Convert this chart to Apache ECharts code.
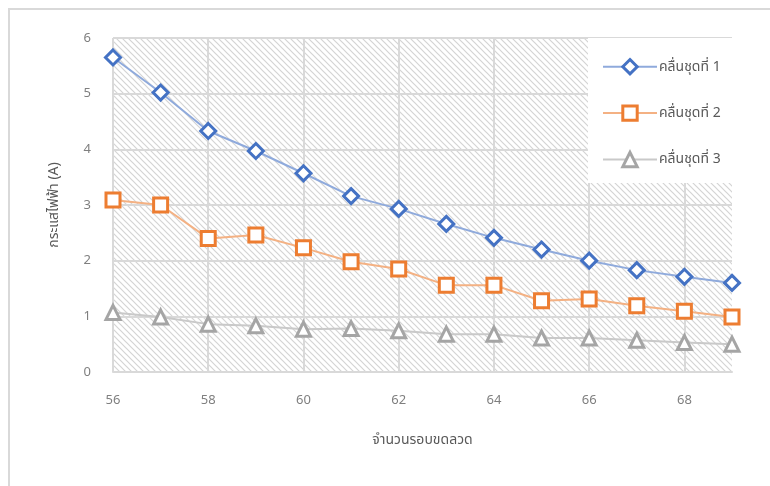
<!DOCTYPE html>
<html>
<head>
<meta charset="utf-8">
<script src="https://cdn.jsdelivr.net/npm/echarts@6/dist/echarts.min.js"></script>
<style>
  html, body { margin: 0; padding: 0; background: #fff; }
  #chart { width: 770px; height: 486px; }
</style>
</head>
<body>
<div id="chart"></div>
<script>
// Winding turns (x) and measured current for each wave set
const turns = ['56','57','58','59','60','61','62','63','64','65','66','67','68','69'];
const wave1 = [5.65, 5.02, 4.33, 3.97, 3.57, 3.16, 2.93, 2.66, 2.41, 2.20, 2.00, 1.83, 1.71, 1.60];
const wave2 = [3.09, 3.00, 2.40, 2.46, 2.23, 1.98, 1.85, 1.56, 1.56, 1.28, 1.31, 1.19, 1.09, 0.99];
const wave3 = [1.07, 0.99, 0.86, 0.83, 0.77, 0.78, 0.74, 0.68, 0.68, 0.61, 0.61, 0.57, 0.53, 0.50];
const seriesNames = ['คลื่นชุดที่ 1', 'คลื่นชุดที่ 2', 'คลื่นชุดที่ 3'];
const yTicks = [0, 1, 2, 3, 4, 5, 6];

// Diagonal hatch tile for the plot background
function hatchTile() {
  const c = document.createElement('canvas');
  const s = 6;
  c.width = s; c.height = s;
  const g = c.getContext('2d');
  g.fillStyle = '#ffffff';
  g.fillRect(0, 0, s, s);
  g.strokeStyle = '#d4d4d4';
  g.lineWidth = 1.2;
  g.beginPath();
  g.moveTo(-1, -1); g.lineTo(s + 1, s + 1);
  g.moveTo(-1, s - 1); g.lineTo(1, s + 1);
  g.moveTo(s - 1, -1); g.lineTo(s + 1, 1);
  g.stroke();
  return c;
}

const font = '"Noto Sans", "Noto Sans Thai", Tahoma, sans-serif';
const chart = echarts.init(document.getElementById('chart'), null, { renderer: 'canvas' });

function lineSeries(name, data, lineColor, markColor, symbol, size) {
  return {
    name: name,
    type: 'line',
    data: data,
    symbol: symbol,
    symbolSize: size,
    showAllSymbol: true,
    lineStyle: { color: lineColor, width: 2 },
    itemStyle: { color: '#ffffff', borderColor: markColor, borderWidth: 3 },
    emphasis: { disabled: true },
    z: 3
  };
}

chart.setOption({
  animation: false,
  textStyle: { fontFamily: font },
  grid: {
    left: 113, right: 38, top: 38, bottom: 114,
    show: true,
    borderWidth: 0,
    backgroundColor: { image: hatchTile(), repeat: 'repeat' }
  },
  graphic: [
    {
      type: 'rect',
      shape: { x: 9, y: 9, width: 820, height: 540 },
      style: { fill: 'none', stroke: '#d9d9d9', lineWidth: 2 },
      z: 0, silent: true
    },
    {
      type: 'rect',
      shape: { x: 588, y: 38, width: 144, height: 145 },
      style: { fill: '#ffffff' },
      z: 1, silent: true
    }
  ],
  legend: {
    orient: 'vertical',
    left: 597,
    top: 53,
    itemWidth: 54,
    itemHeight: 18,
    itemGap: 29,
    itemStyle: { borderWidth: 3 },
    textStyle: { color: '#595959', fontSize: 14, fontFamily: font, padding: [0, 0, 0, -3] },
    data: seriesNames,
    z: 5
  },
  xAxis: {
    type: 'category',
    data: turns,
    boundaryGap: false,
    name: 'จำนวนรอบขดลวด',
    nameLocation: 'middle',
    nameGap: 61,
    nameTextStyle: { color: '#595959', fontSize: 14, fontFamily: font },
    axisLine: { lineStyle: { color: '#d9d9d9', width: 2 } },
    axisTick: { show: false },
    axisLabel: { interval: 1, color: '#7f7f7f', fontSize: 13, margin: 22, fontFamily: font },
    splitLine: { show: true, interval: 1, lineStyle: { color: '#d9d9d9', width: 2 } }
  },
  yAxis: {
    type: 'value',
    min: yTicks[0],
    max: yTicks[yTicks.length - 1],
    interval: 1,
    name: 'กระแสไฟฟ้า (A)',
    nameLocation: 'middle',
    nameGap: 52,
    nameTextStyle: { color: '#595959', fontSize: 14, fontFamily: font },
    axisLine: { show: false },
    axisTick: { show: false },
    axisLabel: { color: '#7f7f7f', fontSize: 13, margin: 22, fontFamily: font },
    splitLine: { show: true, lineStyle: { color: '#d9d9d9', width: 2 } }
  },
  series: [
    lineSeries(seriesNames[0], wave1, '#8faadc', '#4472c4', 'diamond', 15),
    lineSeries(seriesNames[1], wave2, '#f4b183', '#ed7d31', 'rect', 14),
    lineSeries(seriesNames[2], wave3, '#c9c9c9', '#a5a5a5', 'triangle', 14)
  ]
});
</script>
</body>
</html>
